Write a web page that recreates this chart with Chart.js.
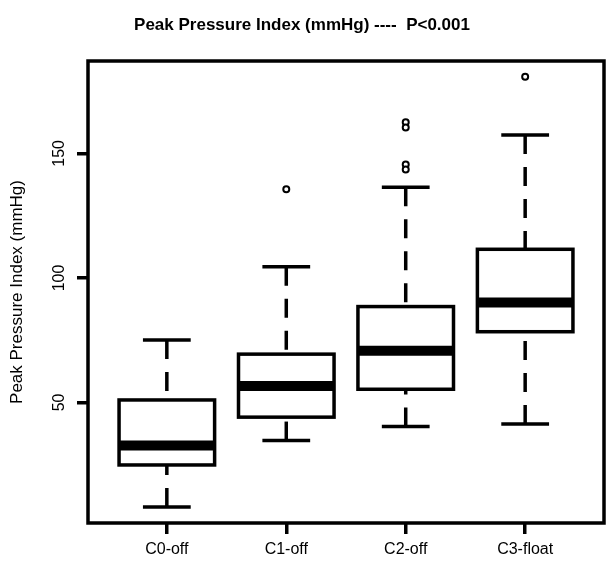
<!DOCTYPE html>
<html>
<head>
<meta charset="utf-8">
<script src="https://cdn.jsdelivr.net/npm/chart.js@4.4.1/dist/chart.umd.min.js"></script>
<style>
html,body{margin:0;padding:0;background:#fff;}
canvas{display:block;}
</style>
</head>
<body>
<canvas id="c" width="610" height="561"></canvas>
<script>
// ---- data ----
const categories   = ['C0-off', 'C1-off', 'C2-off', 'C3-float'];
const whiskerLow   = [8.0, 34.7, 40.3, 41.4];
const quartile1    = [24.9, 44.1, 55.3, 78.4];
const medians      = [32.7, 56.6, 70.8, 90.1];
const quartile3    = [51.0, 69.4, 88.5, 111.5];
const whiskerHigh  = [75.1, 104.5, 136.4, 157.4];
const outlierGroup = [1, 2, 2, 2, 2, 3];
const outlierValue = [135.6, 162.5, 160.4, 145.5, 143.5, 180.8];
const yTickValues  = [50, 100, 150];
const titleText    = 'Peak Pressure Index (mmHg) ----  P<0.001';
const yAxisTitle   = 'Peak Pressure Index (mmHg)';

const FONT = "'Liberation Sans', Arial, sans-serif";

const boxPlugin = {
  id: 'boxplot',
  beforeDatasetsDraw(chart) {
    const ctx = chart.ctx;
    const xs = chart.scales.x, ys = chart.scales.y;
    const ca = chart.chartArea;
    ctx.save();
    ctx.strokeStyle = '#000';
    ctx.lineCap = 'butt';
    for (let i = 0; i < categories.length; i++) {
      const xc = xs.getPixelForValue(i);
      const xl = xs.getPixelForValue(i - 0.4), xr = xs.getPixelForValue(i + 0.4);
      const sl = xs.getPixelForValue(i - 0.2), sr = xs.getPixelForValue(i + 0.2);
      const yq1 = ys.getPixelForValue(quartile1[i]);
      const yq3 = ys.getPixelForValue(quartile3[i]);
      const ymed = ys.getPixelForValue(medians[i]);
      const ylo = ys.getPixelForValue(whiskerLow[i]);
      const yhi = ys.getPixelForValue(whiskerHigh[i]);
      // dashed whiskers, drawn from whisker end towards the hinge
      ctx.lineWidth = 3.5;
      ctx.setLineDash([19, 13]);
      ctx.beginPath(); ctx.moveTo(xc, yhi); ctx.lineTo(xc, yq3); ctx.stroke();
      ctx.beginPath(); ctx.moveTo(xc, ylo); ctx.lineTo(xc, yq1); ctx.stroke();
      ctx.setLineDash([]);
      // staples
      ctx.beginPath(); ctx.moveTo(sl, yhi); ctx.lineTo(sr, yhi); ctx.stroke();
      ctx.beginPath(); ctx.moveTo(sl, ylo); ctx.lineTo(sr, ylo); ctx.stroke();
      // box
      ctx.fillStyle = '#fff';
      ctx.fillRect(xl, yq3, xr - xl, yq1 - yq3);
      ctx.lineWidth = 3.5;
      ctx.strokeRect(xl, yq3, xr - xl, yq1 - yq3);
      // median
      ctx.lineWidth = 10;
      ctx.beginPath(); ctx.moveTo(xl, ymed); ctx.lineTo(xr, ymed); ctx.stroke();
    }
    // frame
    ctx.lineWidth = 3.5;
    ctx.strokeRect(ca.left, ca.top, ca.right - ca.left, ca.bottom - ca.top);
    ctx.restore();
  },
  afterDraw(chart) {
    // rotated y tick labels (R style, las=0)
    const ctx = chart.ctx, ys = chart.scales.y;
    ctx.save();
    ctx.fillStyle = '#000';
    ctx.font = '16px ' + FONT;
    ctx.textAlign = 'center';
    ctx.textBaseline = 'middle';
    ys.ticks.forEach(t => {
      const y = ys.getPixelForValue(t.value);
      ctx.save();
      ctx.translate(60, y);
      ctx.rotate(-Math.PI / 2);
      ctx.fillText(String(t.value), 0, 0);
      ctx.restore();
    });
    ctx.restore();
  }
};

new Chart(document.getElementById('c'), {
  type: 'scatter',
  data: {
    datasets: [{
      label: 'outliers',
      data: outlierValue.map((v, k) => ({ x: outlierGroup[k], y: v })),
      pointStyle: 'circle',
      pointRadius: 3,
      pointBorderWidth: 2,
      borderColor: '#000',
      backgroundColor: '#fff',
      pointHoverRadius: 3
    }]
  },
  options: {
    responsive: false,
    animation: false,
    devicePixelRatio: 1,
    layout: { padding: { left: 0, right: 6, top: 0, bottom: 0 } },
    plugins: {
      legend: { display: false },
      tooltip: { enabled: false },
      title: {
        display: true,
        text: titleText,
        color: '#000',
        font: { family: FONT, size: 17, weight: 'bold', lineHeight: 1.2 },
        padding: { top: 14.8, bottom: 25.8 }
      }
    },
    scales: {
      x: {
        type: 'linear',
        min: -0.66,
        max: 3.66,
        afterBuildTicks: s => { s.ticks = categories.map((c, i) => ({ value: i })); },
        afterFit: s => { s.height = 38; },
        border: { display: false },
        grid: { drawOnChartArea: false, drawTicks: true, tickLength: 11, color: '#000', lineWidth: 3.5 },
        ticks: {
          autoSkip: false, maxRotation: 0, minRotation: 0, padding: 6,
          color: '#000',
          font: { family: FONT, size: 16 },
          callback: v => categories[v]
        }
      },
      y: {
        type: 'linear',
        min: 1.6,
        max: 187.1,
        afterBuildTicks: s => { s.ticks = yTickValues.map(v => ({ value: v })); },
        afterFit: s => { s.width = 88; },
        border: { display: false },
        grid: { drawOnChartArea: false, drawTicks: true, tickLength: 11, color: '#000', lineWidth: 3.5 },
        ticks: { display: false },
        title: {
          display: true,
          text: yAxisTitle,
          color: '#000',
          font: { family: FONT, size: 17, lineHeight: 1.2 },
          padding: { top: 7.3, bottom: 0 }
        }
      }
    }
  },
  plugins: [boxPlugin]
});
</script>
</body>
</html>
